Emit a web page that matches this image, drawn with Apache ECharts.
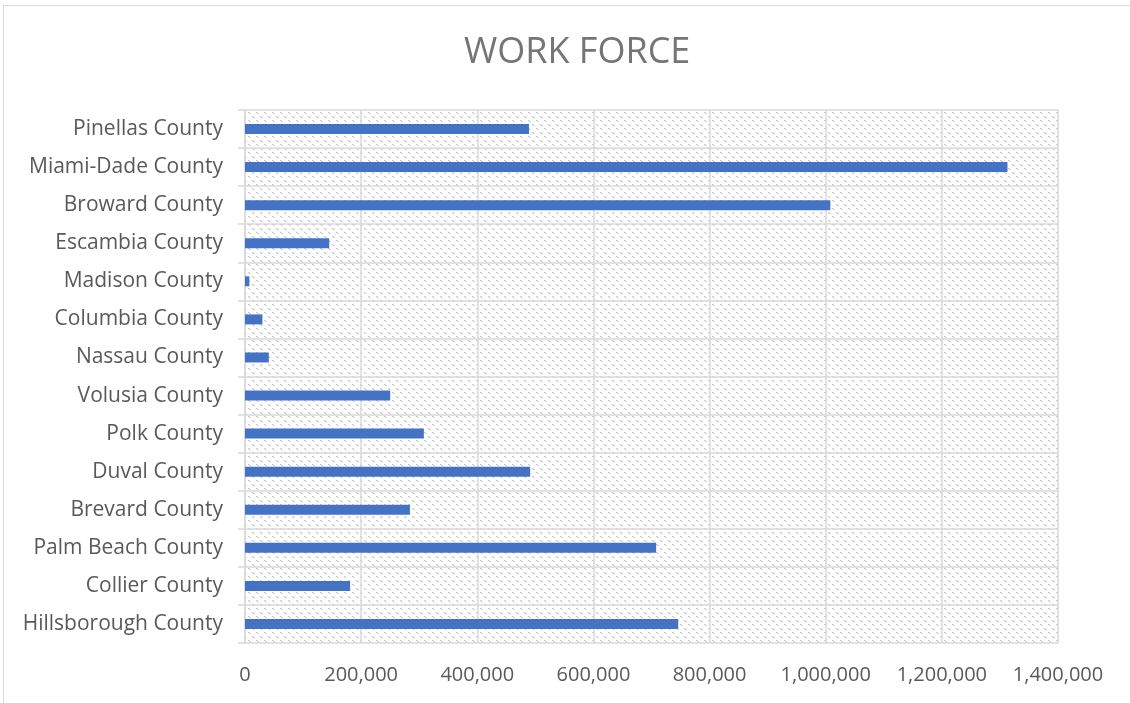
<!DOCTYPE html>
<html>
<head>
<meta charset="utf-8">
<script src="https://cdn.jsdelivr.net/npm/echarts@6/dist/echarts.min.js"></script>
<style>
html,body{margin:0;padding:0;background:#fff;}
#chart{width:1130px;height:703px;}
</style>
</head>
<body>
<div id="chart"></div>
<script>
const categories = ['Hillsborough County','Collier County','Palm Beach County','Brevard County','Duval County','Polk County','Volusia County','Nassau County','Columbia County','Madison County','Escambia County','Broward County','Miami-Dade County','Pinellas County'];
const workForce = [746000,181000,708000,284000,491000,308000,250000,41000,30000,7500,145000,1008000,1313000,489000];
const xTicks = [0,200000,400000,600000,800000,1000000,1200000,1400000];

// hatch pattern (dashed downward diagonal)
const pc = document.createElement('canvas');
pc.width = 8; pc.height = 8;
const ctx = pc.getContext('2d');
ctx.fillStyle = '#ffffff';
ctx.fillRect(0,0,8,8);
for (let i = 0; i < 8; i++) {
  if (i % 4 < 2) {
    ctx.fillStyle = '#c4c4c4';
    ctx.fillRect(i, i, 1, 1);
    ctx.fillStyle = '#e2e2e2';
    ctx.fillRect((i + 1) % 8, i, 1, 1);
  }
}

const chart = echarts.init(document.getElementById('chart'), null, {renderer:'canvas'});
const font = "'Open Sans', 'Liberation Sans', sans-serif";
chart.setOption({
  backgroundColor: '#ffffff',
  animation: false,
  title: {
    text: 'WORK FORCE',
    left: 459,
    top: 30,
    textStyle: {fontFamily: font, fontSize: 36, fontWeight: 'normal', color: '#757575'}
  },
  graphic: [
    {type:'line', shape:{x1:3.5,y1:5.5,x2:1130,y2:5.5}, style:{stroke:'#d9d9d9', lineWidth:1}},
    {type:'line', shape:{x1:3.5,y1:5.5,x2:3.5,y2:703}, style:{stroke:'#d9d9d9', lineWidth:1}}
  ],
  grid: {
    left: 245, right: 72, top: 110, bottom: 60,
    show: true,
    backgroundColor: {image: pc, repeat: 'repeat'},
    borderWidth: 0
  },
  xAxis: {
    type: 'value',
    min: 0, max: 1400000, interval: 200000,
    axisLine: {show:false},
    axisTick: {show:false},
    splitLine: {show:true, lineStyle:{color:'#d9d9d9', width:1.5}},
    axisLabel: {
      margin: 22,
      fontFamily: font, fontSize: 20, color: '#595959',
      formatter: v => xTicks.includes(v) ? v.toLocaleString('en-US') : ''
    }
  },
  yAxis: {
    type: 'category',
    data: categories,
    axisLine: {show:true, lineStyle:{color:'#d9d9d9', width:1.5}},
    axisTick: {show:true, length:7, lineStyle:{color:'#d9d9d9', width:1.5}},
    splitLine: {show:true, lineStyle:{color:'#d9d9d9', width:1.5}},
    axisLabel: {margin: 22, fontFamily: font, fontSize: 21, color: '#595959'}
  },
  series: [{
    type: 'bar',
    data: workForce,
    barWidth: 10,
    itemStyle: {color: '#4472C4'}
  }]
});
</script>
</body>
</html>
